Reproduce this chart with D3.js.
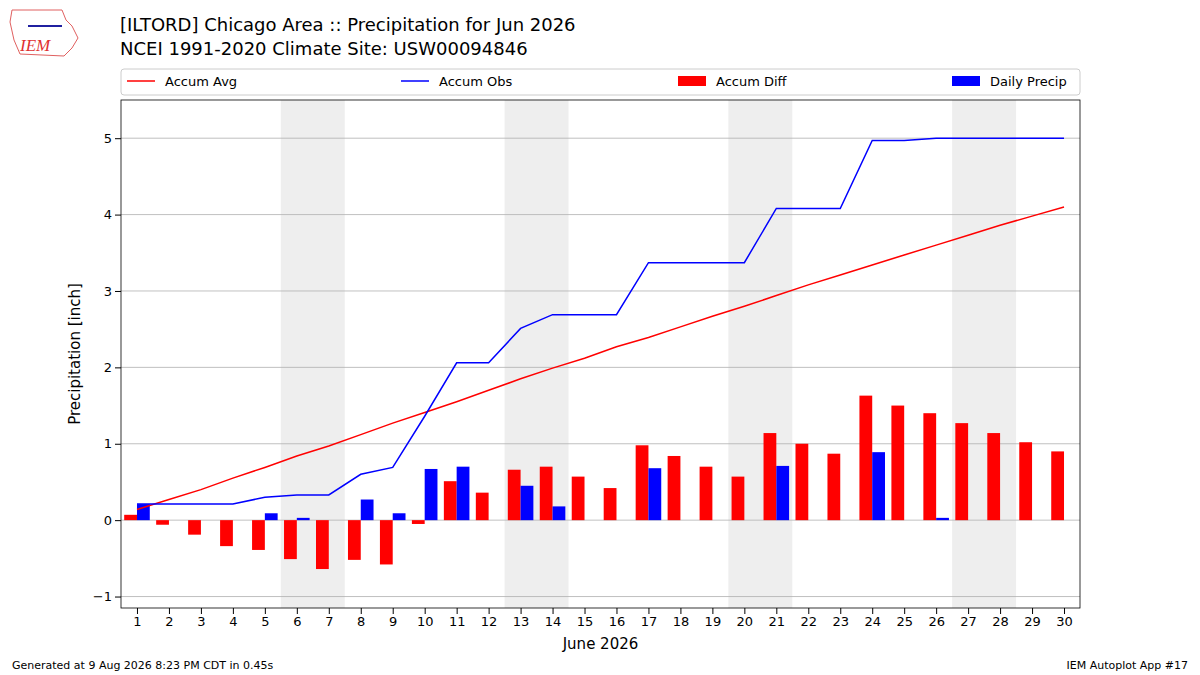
<!DOCTYPE html>
<html><head><meta charset="utf-8">
<script src="https://cdn.jsdelivr.net/npm/d3@7"></script>
<style>body{margin:0;background:#fff;font-family:"DejaVu Sans",sans-serif;}</style>
</head><body><div id="chart"></div>
<script>
const days = d3.range(1, 31);
const accumAvg = [0.14,0.27,0.40,0.55,0.69,0.84,0.97,1.12,1.27,1.41,1.55,1.70,1.85,1.99,2.12,2.27,2.39,2.53,2.67,2.80,2.94,3.08,3.21,3.34,3.47,3.60,3.73,3.86,3.98,4.10];
const dailyPrecip = [0.21,0,0,0,0.09,0.03,0,0.27,0.09,0.67,0.70,0,0.45,0.18,0,0,0.68,0,0,0,0.71,0,0,0.89,0,0.03,0,0,0,0];
const accumObs = d3.cumsum(dailyPrecip);
const weekends = [6, 13, 20, 27];
const yTicks = [-1, 0, 1, 2, 3, 4, 5];

const W = 1200, H = 675;
const m = {left: 121, right: 1080, top: 100, bottom: 608};
const svg = d3.select("#chart").append("svg").attr("width", W).attr("height", H);

const x = d3.scaleLinear().domain([0.5, 30.5]).range([m.left, m.right]);
const y = d3.scaleLinear().domain([-1.15, 5.5]).range([m.bottom, m.top]);

// weekend shading
svg.selectAll(".wk").data(weekends).join("rect")
  .attr("x", d => x(d - 0.5)).attr("width", x(2) - x(0))
  .attr("y", m.top).attr("height", m.bottom - m.top).attr("fill", "#eeeeee");

// grid
svg.selectAll(".grid").data(yTicks).join("line")
  .attr("x1", m.left).attr("x2", m.right).attr("y1", d => y(d)).attr("y2", d => y(d))
  .attr("stroke", "#b0b0b0").attr("stroke-width", 0.8);

const bw = x(1.4) - x(1);
svg.selectAll(".diff").data(days).join("rect")
  .attr("x", d => x(d) - bw).attr("width", bw)
  .attr("y", (d, i) => y(Math.max(0, accumObs[i] - accumAvg[i])))
  .attr("height", (d, i) => Math.abs(y(0) - y(accumObs[i] - accumAvg[i])))
  .attr("fill", "red");
svg.selectAll(".daily").data(days).join("rect")
  .attr("x", d => x(d)).attr("width", bw)
  .attr("y", (d, i) => y(dailyPrecip[i]))
  .attr("height", (d, i) => y(0) - y(dailyPrecip[i]))
  .attr("fill", "blue");

const line = d3.line().x((d, i) => x(days[i])).y(d => y(d));
svg.append("path").attr("d", line(accumAvg)).attr("fill", "none").attr("stroke", "red").attr("stroke-width", 1.5);
svg.append("path").attr("d", line(accumObs)).attr("fill", "none").attr("stroke", "blue").attr("stroke-width", 1.5);

// frame
svg.append("rect").attr("x", m.left).attr("y", m.top).attr("width", m.right - m.left).attr("height", m.bottom - m.top)
  .attr("fill", "none").attr("stroke", "#000").attr("stroke-width", 0.8);

const xa = svg.append("g").attr("transform", `translate(0,${m.bottom})`)
  .call(d3.axisBottom(x).tickValues(days).tickFormat(d3.format("d")).tickSizeOuter(0));
const ya = svg.append("g").attr("transform", `translate(${m.left},0)`)
  .call(d3.axisLeft(y).tickValues(yTicks).tickFormat(d => d < 0 ? "\u2212" + (-d) : d).tickSizeOuter(0));
[xa, ya].forEach(a => { a.select(".domain").remove(); a.selectAll("text").attr("font-size", 13).attr("font-family", "DejaVu Sans").attr("fill", "#000"); });

svg.append("text").attr("x", (m.left + m.right) / 2).attr("y", 649).attr("text-anchor", "middle")
  .attr("font-size", 15).text("June 2026");
svg.append("text").attr("transform", `translate(80,${(m.top + m.bottom) / 2}) rotate(-90)`)
  .attr("text-anchor", "middle").attr("font-size", 15).text("Precipitation [inch]");

svg.append("text").attr("x", 120).attr("y", 31).attr("font-size", 18).text("[ILTORD] Chicago Area :: Precipitation for Jun 2026");
svg.append("text").attr("x", 120).attr("y", 55).attr("font-size", 18).text("NCEI 1991-2020 Climate Site: USW00094846");

// legend
svg.append("rect").attr("x", m.left).attr("y", 69).attr("width", m.right - m.left).attr("height", 26)
  .attr("fill", "#fff").attr("stroke", "#ccc").attr("rx", 3);
const legend = [
  {label: "Accum Avg", color: "red", kind: "line", x: 127},
  {label: "Accum Obs", color: "blue", kind: "line", x: 401},
  {label: "Accum Diff", color: "red", kind: "bar", x: 678},
  {label: "Daily Precip", color: "blue", kind: "bar", x: 952}
];
legend.forEach(l => {
  if (l.kind === "line") svg.append("line").attr("x1", l.x).attr("x2", l.x + 28).attr("y1", 81).attr("y2", 81).attr("stroke", l.color).attr("stroke-width", 1.5);
  else svg.append("rect").attr("x", l.x).attr("y", 76).attr("width", 28).attr("height", 10).attr("fill", l.color);
  svg.append("text").attr("x", l.x + 38).attr("y", 86).attr("font-size", 13).text(l.label);
});

// logo stub
svg.append("path").attr("d", "M12,10 L62,10 L66,20 L72,26 L78,38 L72,48 L64,56 L20,54 L14,40 L10,22 Z")
  .attr("fill", "none").attr("stroke", "#e06060").attr("stroke-width", 1);
svg.append("text").attr("x", 20).attr("y", 51).attr("font-size", 17).attr("font-style", "italic")
  .attr("font-family", "Liberation Serif").attr("fill", "#e03030").text("IEM");
svg.append("line").attr("x1", 28).attr("x2", 62).attr("y1", 26).attr("y2", 26).attr("stroke", "#2020a0").attr("stroke-width", 2);

svg.append("text").attr("x", 12).attr("y", 669).attr("font-size", 11).text("Generated at 9 Aug 2026 8:23 PM CDT in 0.45s");
svg.append("text").attr("x", 1188).attr("y", 669).attr("text-anchor", "end").attr("font-size", 11).text("IEM Autoplot App #17");
</script></body></html>
